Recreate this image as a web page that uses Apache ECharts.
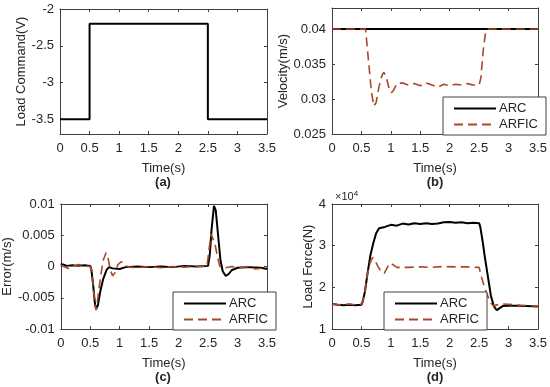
<!DOCTYPE html>
<html><head><meta charset="utf-8">
<script src="https://cdn.jsdelivr.net/npm/echarts@6/dist/echarts.min.js"></script>
<style>html,body{margin:0;padding:0;background:#fff}#c{width:550px;height:387px}</style>
</head><body><div id="c"></div>
<script>
// ---------- data ----------
var xTicks = [0, 0.5, 1, 1.5, 2, 2.5, 3, 3.5];
// (a) load command
var tCmd = [0, 0.5, 0.5, 2.5, 2.5, 3.5];
var cmd  = [-3.5, -3.5, -2.2, -2.2, -3.5, -3.5];
var cmdTicks = [-3.5, -3, -2.5, -2];
// (b) velocity
var tVelArc = [0, 3.5];
var velArc  = [0.04, 0.04];
var tVelF = [0, 0.57, 0.62, 0.67, 0.71, 0.75, 0.8, 0.85, 0.88, 0.92, 0.97, 1.01, 1.05, 1.1, 1.2, 1.3, 1.4, 1.5, 1.6, 1.7, 1.8, 1.9, 2.0, 2.1, 2.2, 2.3, 2.4, 2.5, 2.53, 2.57, 2.61, 2.65, 3.5];
var velF  = [0.04, 0.04, 0.0355, 0.031, 0.029, 0.0295, 0.0318, 0.0334, 0.0338, 0.0332, 0.0315, 0.0309, 0.0313, 0.0322, 0.0323, 0.032, 0.0322, 0.0319, 0.0323, 0.032, 0.0317, 0.0321, 0.0319, 0.0321, 0.032, 0.0322, 0.032, 0.032, 0.033, 0.037, 0.0395, 0.04, 0.04];
var velTicks = [0.025, 0.03, 0.035, 0.04];
// (c) error
var tErrArc = [0, 0.05, 0.1, 0.2, 0.3, 0.4, 0.5, 0.52, 0.55, 0.58, 0.6, 0.63, 0.67, 0.72, 0.78, 0.82, 0.88, 1.0, 1.1, 1.3, 1.5, 1.7, 1.9, 2.1, 2.3, 2.5, 2.53, 2.56, 2.6, 2.63, 2.67, 2.71, 2.75, 2.8, 2.85, 2.9, 3.0, 3.2, 3.4, 3.5];
var errArc  = [0.0004, 0.0003, 0.0001, 0.0002, 0.0001, 0.0002, 0.0001, -0.0005, -0.003, -0.006, -0.0068, -0.0062, -0.004, -0.002, -0.0005, -0.0001, -0.0003, -0.0004, -0.0001, 0, -0.0001, 0, -0.0001, 0.0001, 0, 0.0001, 0.002, 0.006, 0.0097, 0.009, 0.005, 0.001, -0.0008, -0.0015, -0.0012, -0.0006, -0.0002, -0.0001, -0.0002, -0.0004];
var tErrF = [0, 0.1, 0.15, 0.2, 0.3, 0.4, 0.5, 0.52, 0.55, 0.58, 0.6, 0.63, 0.67, 0.72, 0.77, 0.8, 0.84, 0.88, 0.92, 0.97, 1.03, 1.08, 1.15, 1.3, 1.5, 1.7, 1.9, 2.1, 2.3, 2.48, 2.52, 2.55, 2.58, 2.62, 2.66, 2.7, 2.8, 2.9, 3.0, 3.2, 3.3, 3.5];
var errF  = [0.0002, -0.0002, -0.0004, 0, 0.0003, 0.0001, 0, -0.0005, -0.003, -0.006, -0.007, -0.005, -0.002, 0.001, 0.0022, 0.0015, -0.0005, -0.0015, -0.001, 0.0003, 0.0008, 0.0003, -0.0001, -0.0002, 0, -0.0002, 0, -0.0001, 0, 0, 0.003, 0.0052, 0.0045, 0.0035, 0.0015, 0, -0.0002, 0, -0.0002, 0, -0.0004, -0.0002];
var errTicks = [-0.01, -0.005, 0, 0.005, 0.01];
// (d) load force (N)
var tForArc = [0, 0.1, 0.2, 0.3, 0.4, 0.5, 0.52, 0.56, 0.6, 0.65, 0.7, 0.75, 0.8, 0.9, 1.0, 1.1, 1.2, 1.3, 1.4, 1.5, 1.6, 1.7, 1.8, 1.9, 2.0, 2.1, 2.2, 2.3, 2.4, 2.5, 2.52, 2.56, 2.6, 2.65, 2.7, 2.75, 2.8, 2.85, 2.9, 3.0, 3.2, 3.5];
var forArc  = [16000, 15800, 15700, 15800, 15700, 15800, 16500, 19000, 23000, 27500, 30500, 33000, 34200, 34500, 35000, 34800, 35300, 35100, 35400, 35200, 35400, 35200, 35300, 35600, 35700, 35500, 35600, 35400, 35500, 35400, 34500, 31000, 27000, 22500, 18000, 15500, 14500, 15000, 15500, 15600, 15600, 15400];
var tForF = [0, 0.1, 0.2, 0.3, 0.4, 0.5, 0.52, 0.56, 0.6, 0.65, 0.69, 0.73, 0.78, 0.85, 0.89, 0.93, 0.98, 1.03, 1.1, 1.3, 1.5, 1.7, 1.9, 2.1, 2.3, 2.5, 2.53, 2.58, 2.63, 2.7, 2.75, 2.8, 2.9, 3.0, 3.2, 3.5];
var forF  = [16000, 15800, 15900, 16000, 15800, 16000, 16500, 19000, 23000, 26000, 27200, 26500, 25000, 23500, 23400, 24500, 25800, 25500, 24800, 24800, 24900, 24800, 25000, 24900, 24900, 24800, 23000, 20500, 18500, 16200, 15500, 15800, 16000, 15900, 15700, 15500];
var forTicks = [10000, 20000, 30000, 40000];

// ---------- chart ----------
function zip(a, b) { return a.map(function (v, i) { return [v, b[i]]; }); }
var TXT = '#262626', AX = '#404040', FONT = 'Liberation Sans';
var RED = '#a84a26';
var grids = [
  {left: 60, top: 9, width: 207, height: 125},
  {left: 332, top: 8, width: 206, height: 126},
  {left: 60, top: 204, width: 207, height: 125},
  {left: 332, top: 204, width: 206, height: 125}
];
var yCfg = [
  {min: -3.7, max: -2, ticks: cmdTicks, name: 'Load Command(V)', gap: 29, fmt: null},
  {min: 0.025, max: 0.043, ticks: velTicks, name: 'Velocity(m/s)', gap: 37, fmt: null},
  {min: -0.01, max: 0.01, ticks: errTicks, name: 'Error(m/s)', gap: 41, fmt: null},
  {min: 10000, max: 40000, ticks: forTicks, name: 'Load Force(N)', gap: 17, fmt: function (v) { return String(v / 10000); }}
];
var xAxes = [], yAxes = [];
grids.forEach(function (g, i) {
  xAxes.push({type: 'value', gridIndex: i, min: 0, max: 3.5, interval: 0.5, position: 'bottom',
    name: 'Time(s)', nameLocation: 'middle', nameGap: 28,
    nameTextStyle: {color: TXT, fontFamily: FONT, fontSize: 13},
    axisLine: {show: true, onZero: false, lineStyle: {color: AX, width: 1}},
    axisTick: {show: true, inside: true, length: 3, lineStyle: {color: AX}},
    axisLabel: {color: TXT, fontFamily: FONT, fontSize: 13, margin: 8},
    splitLine: {show: false}});
  xAxes.push({type: 'value', gridIndex: i, min: 0, max: 3.5, interval: 0.5, position: 'top',
    axisLine: {show: true, onZero: false, lineStyle: {color: AX, width: 1}},
    axisTick: {show: true, inside: true, length: 3, lineStyle: {color: AX}},
    axisLabel: {show: false}, splitLine: {show: false}});
  var c = yCfg[i];
  var lab = {color: TXT, fontFamily: FONT, fontSize: 13, margin: 6, customValues: c.ticks};
  if (c.fmt) lab.formatter = c.fmt;
  yAxes.push({type: 'value', gridIndex: i, min: c.min, max: c.max, position: 'left',
    name: c.name, nameLocation: 'middle', nameGap: c.gap,
    nameTextStyle: {color: TXT, fontFamily: FONT, fontSize: 13},
    axisLine: {show: true, onZero: false, lineStyle: {color: AX, width: 1}},
    axisTick: {show: true, inside: true, length: 3, lineStyle: {color: AX}, customValues: c.ticks},
    axisLabel: lab, splitLine: {show: false}});
  yAxes.push({type: 'value', gridIndex: i, min: c.min, max: c.max, position: 'right',
    axisLine: {show: true, onZero: false, lineStyle: {color: AX, width: 1}},
    axisTick: {show: true, inside: true, length: 3, lineStyle: {color: AX}, customValues: c.ticks},
    axisLabel: {show: false, customValues: c.ticks}, splitLine: {show: false}});
});
function arc(i, data) {
  return {type: 'line', name: 'ARC', xAxisIndex: 2 * i, yAxisIndex: 2 * i, data: data, symbol: 'none',
    animation: false, lineStyle: {color: '#000', width: 2}, itemStyle: {color: '#000'}, z: 3};
}
function arf(i, data) {
  return {type: 'line', name: 'ARFIC', xAxisIndex: 2 * i, yAxisIndex: 2 * i, data: data, symbol: 'none',
    animation: false, lineStyle: {color: RED, width: 1.6, type: [9, 5]}, itemStyle: {color: RED}, z: 4};
}
var series = [
  {type: 'line', name: 'cmd', xAxisIndex: 0, yAxisIndex: 0, data: zip(tCmd, cmd), symbol: 'none',
    animation: false, lineStyle: {color: '#000', width: 2}},
  arc(1, zip(tVelArc, velArc)), arf(1, zip(tVelF, velF)),
  arc(2, zip(tErrArc, errArc)), arf(2, zip(tErrF, errF)),
  arc(3, zip(tForArc, forArc)), arf(3, zip(tForF, forF))
];
function leg(left, top) {
  return {data: ['ARC', 'ARFIC'], orient: 'vertical', left: left, top: top, width: 95,
    itemWidth: 42, itemHeight: 12, itemGap: 3, padding: [5, 8, 4, 10],
    borderColor: AX, borderWidth: 1, backgroundColor: '#fff', selectedMode: false,
    itemStyle: {opacity: 0},
    textStyle: {color: TXT, fontFamily: FONT, fontSize: 13, padding: [0, 0, 0, -2]}, z: 10};
}
var graphics = [];
[['(a)', 163, 182], ['(b)', 435, 182], ['(c)', 163, 377], ['(d)', 435, 377]].forEach(function (l) {
  graphics.push({type: 'text', x: l[1], y: l[2], style: {text: l[0], fill: TXT, font: 'bold 13px "Liberation Sans"', textAlign: 'center', textVerticalAlign: 'middle'}});
});
graphics.push({type: 'text', x: 335, y: 197, style: {
  text: '{a|×10}{b|4}', textVerticalAlign: 'middle',
  rich: {a: {fill: TXT, fontFamily: FONT, fontSize: 11}, b: {fill: TXT, fontFamily: FONT, fontSize: 8, verticalAlign: 'top', padding: [0, 0, 6, 0]}}}});
var chart = echarts.init(document.getElementById('c'), null, {renderer: 'canvas'});
chart.setOption({
  animation: false,
  backgroundColor: '#fff',
  grid: grids,
  xAxis: xAxes,
  yAxis: yAxes,
  legend: [leg(443, 97), leg(173, 292), leg(384, 292)],
  series: series,
  graphic: graphics
});
</script></body></html>
